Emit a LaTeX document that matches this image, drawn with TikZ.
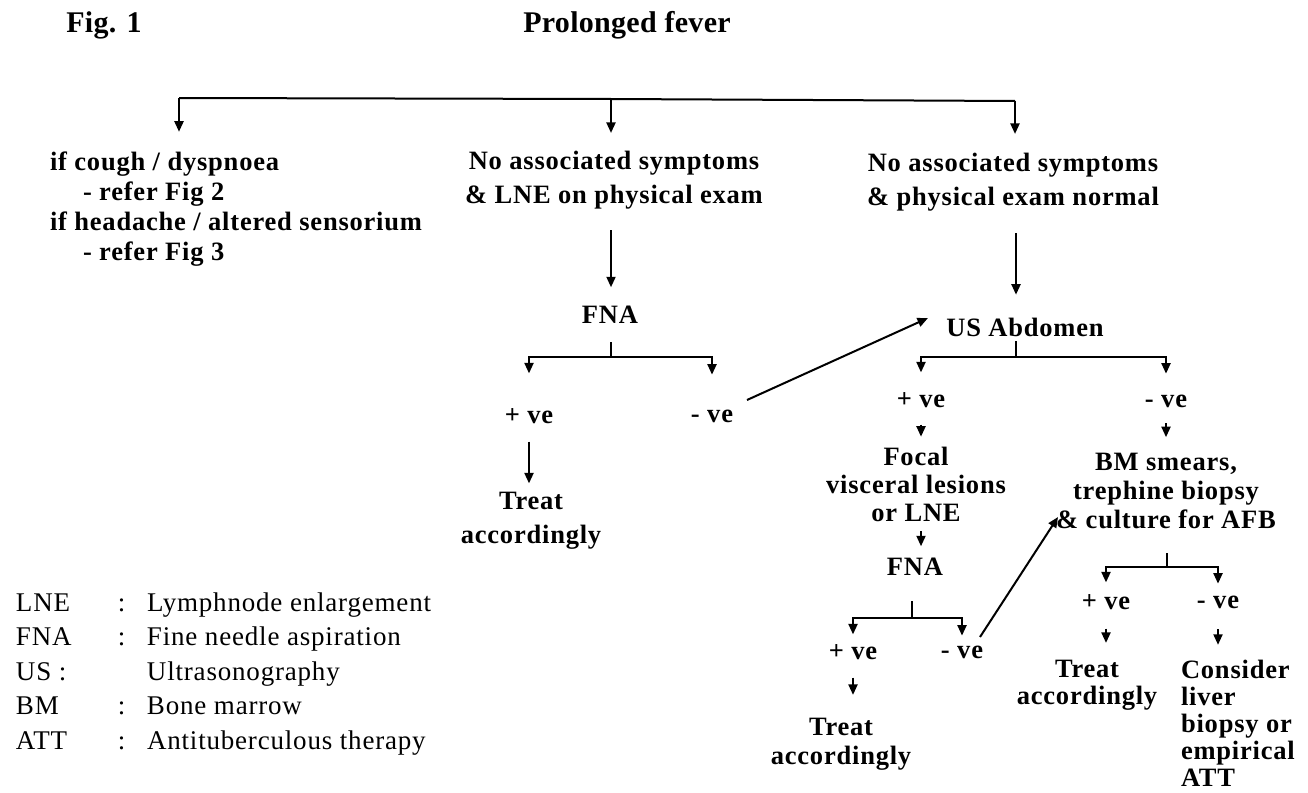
\documentclass[tikz,border=0pt]{standalone}
\usepackage{fontspec}
\setmainfont{Liberation Serif}[LetterSpace=3]
\newfontfamily\legendfont{Liberation Serif}[LetterSpace=3]
\newfontfamily\titlefont{Liberation Serif}[LetterSpace=1]
\usetikzlibrary{arrows.meta}

\begin{document}
\begin{tikzpicture}[x=1pt,y=-1pt,line width=2pt,
  arr/.style={-{Triangle[length=10.5pt,width=9pt]}},
  txt/.style={inner sep=0pt,align=center,font=\fontsize{26.5}{#1}\selectfont\bfseries},
  txt/.default=30,
  ttl/.style={inner sep=0pt,font=\titlefont\fontsize{30}{32}\selectfont\bfseries},
  leg/.style={inner sep=0pt,align=left,anchor=west,font=\legendfont\fontsize{27}{34.5}\selectfont}]
\useasboundingbox[fill=white] (0,0) rectangle (1308,792);

% headings
\node[ttl] (fig) at (104,25) {Fig. 1};
\node[ttl] (title) at (627,25) {Prolonged fever};

% first level
\node[txt,align=left,anchor=west] (left) at (49,209) {if cough / dyspnoea\\\hspace*{33pt}- refer Fig 2\\if headache / altered sensorium\\\hspace*{33pt}- refer Fig 3};
\node[txt=34] (mid) at (614,180) {No associated symptoms\\\& LNE on physical exam};
\node[txt=34] (right) at (1013,182) {No associated symptoms\\\& physical exam normal};

% lymph node branch
\node[txt] (fnaA) at (610,315) {FNA};
\node[txt] (posA) at (529,416) {+ ve};
\node[txt] (negA) at (712,416) {- ve};
\node[txt=34] (treatA) at (531,521) {Treat\\accordingly};

% abdominal branch
\node[txt] (us) at (1025,327) {US Abdomen};
\node[txt] (posB) at (921,400) {+ ve};
\node[txt] (negB) at (1166,401) {- ve};
\node[txt=28] (focal) at (916,484) {Focal\\visceral lesions\\or LNE};
\node[txt] (fnaB) at (915,567) {FNA};
\node[txt] (posC) at (853,652) {+ ve};
\node[txt] (negC) at (962,652) {- ve};
\node[txt=29] (treatB) at (841,744) {Treat\\accordingly};

% marrow branch
\node[txt=29] (bm) at (1166,491) {BM smears,\\trephine biopsy\\\& culture for AFB};
\node[txt] (posD) at (1106,602) {+ ve};
\node[txt] (negD) at (1218,602) {- ve};
\node[txt=27] (treatC) at (1087,685) {Treat\\accordingly};
\node[txt=27,align=left,anchor=west] (consider) at (1180,723) {Consider\\liver\\biopsy or\\empirical\\ATT};

% abbreviations
\node[leg] (legend) at (15,674) {%
  \makebox[102pt][l]{LNE}\makebox[29pt][l]{:}Lymphnode enlargement\\
  \makebox[102pt][l]{FNA}\makebox[29pt][l]{:}Fine needle aspiration\\
  \makebox[131pt][l]{US :}Ultrasonography\\
  \makebox[102pt][l]{BM}\makebox[29pt][l]{:}Bone marrow\\
  \makebox[102pt][l]{ATT}\makebox[29pt][l]{:}Antituberculous therapy};

% junction points
\coordinate (tL) at (179,98);
\coordinate (tM) at (611,99);
\coordinate (tR) at (1015,101);
\coordinate (jA) at (611,357);
\coordinate (jB) at (1016,357);
\coordinate (jC) at (912,618);
\coordinate (jD) at (1167,567);
\coordinate (dAs) at (747,400);
\coordinate (dAe) at (928,318);
\coordinate (dBs) at (980,637);
\coordinate (dBe) at (1058,517);

% top split
\draw (tL) -- (tM) -- (tR);
\draw[arr,shorten >=19pt] (tL) -- (tL |- left.north);
\draw[arr,shorten >=17pt] (tM) -- (tM |- mid.north);
\draw[arr,shorten >=18pt] (tR) -- (tR |- right.north);

% lymph node branch
\draw[arr,shorten <=20pt,shorten >=18pt] (mid.south -| tM) -- (fnaA.north -| tM);
\draw[shorten >=17pt] (jA) -- (jA |- fnaA.south);
\draw[arr,shorten >=34pt] (jA) -| (posA.north);
\draw[arr,shorten >=34pt] (jA) -| (negA.north);
\draw[arr,shorten <=17pt,shorten >=8pt] (posA.south) -- (posA.south |- treatA.north);
\draw[arr] (dAs) -- (dAe);

% abdominal branch
\draw[arr,shorten <=21pt,shorten >=22pt] (right.south -| jB) -- (us.north -| jB);
\draw[shorten >=4pt] (jB) -- (jB |- us.south);
\draw[arr,shorten >=19pt] (jB) -| (posB.north);
\draw[arr,shorten >=20pt] (jB) -| (negB.north);
\draw[arr,shorten <=16pt,shorten >=9pt] (posB.south) -- (posB.south |- focal.north);
\draw[arr,shorten <=15pt,shorten >=15pt] (negB.south) -- (negB.south |- bm.north);
\draw[arr,shorten <=9pt,shorten >=11pt] (focal.south -| posB) -- (fnaB.north -| posB);
\draw[shorten >=24pt] (jC) -- (jC |- fnaB.south);
\draw[arr,shorten >=9pt] (jC) -| (posC.north);
\draw[arr,shorten >=9pt] (jC) -| (negC.north);
\draw[arr,shorten <=17pt,shorten >=22pt] (posC.south) -- (posC.south |- treatB.north);
\draw[arr] (dBs) -- (dBe);

% marrow branch
\draw[shorten >=23pt] (jD) -- (jD |- bm.south);
\draw[arr,shorten >=11pt] (jD) -| (posD.north);
\draw[arr,shorten >=11pt] (jD) -| (negD.north);
\draw[arr,shorten <=18pt,shorten >=16pt] (posD.south) -- (posD.south |- treatC.north);
\draw[arr,shorten <=20pt,shorten >=14pt] (negD.south) -- (negD.south |- consider.north);
\end{tikzpicture}
\end{document}
